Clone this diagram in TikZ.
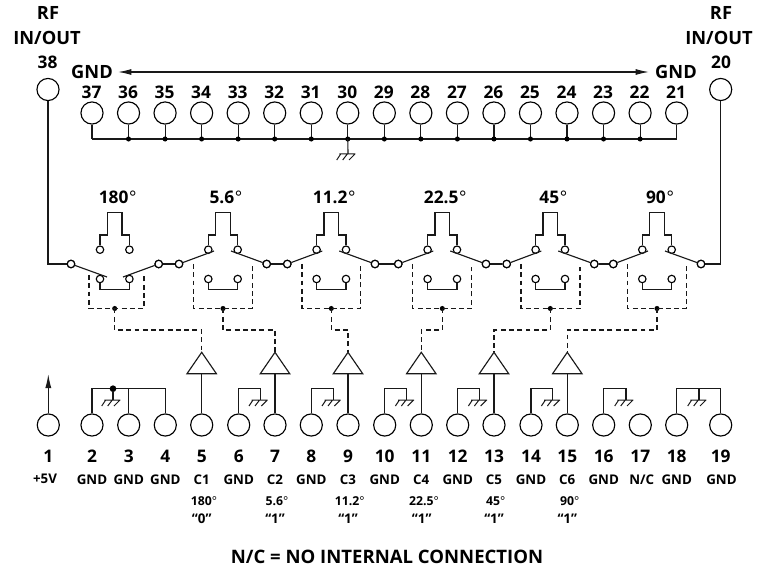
\documentclass[tikz,border=0pt]{standalone}
\usepackage{fontspec}
\setmainfont{Open Sans}
\usetikzlibrary{arrows.meta,calc}
\tikzset{
  wire/.style={line width=0.85pt,black!90},
  ctl/.style={line width=0.85pt,black!90,dash pattern=on 3.7pt off 2.5pt},
  pinc/.style={circle,draw=black,line width=0.85pt,minimum size=16.6pt,inner sep=0pt,fill=white},
  con/.style={circle,draw=black,line width=0.85pt,minimum size=5.6pt,inner sep=0pt,fill=white},
  jun/.style={circle,fill=black,minimum size=3.8pt,inner sep=0pt},
  buf/.style={line width=0.85pt,black!90,line join=miter},
  big/.style={font=\fontsize{13}{15}\selectfont\bfseries,inner sep=0pt},
  ttl/.style={font=\fontsize{13.7}{16}\selectfont\bfseries,inner sep=0pt},
  sml/.style={font=\fontsize{10}{12}\selectfont\bfseries,inner sep=0pt},
  deg/.style={font=\fontsize{9.2}{11}\selectfont\bfseries,inner sep=0pt},
  qt/.style={font=\fontsize{10}{12}\selectfont\bfseries,inner sep=0pt},
  gndsym/.pic={
    \draw[wire,line width=0.75pt] (-8.6,0)--(7.4,0)
      (-7.3,0)--(-11.3,6) (-0.7,0)--(-5.3,6) (7,0)--(1,6);
  }
}
\begin{document}
\begin{tikzpicture}[x=0.75pt,y=-0.75pt]
\useasboundingbox (0,0) rectangle (769,567);
% ---- top pins
\foreach \n in {21,...,37}{
  \pgfmathsetmacro{\px}{92+36.54*(37-\n)}
  \node[pinc] (p\n) at (\px,113) {};
  \node[big] (t\n) at (\px-0.5,92) {\n};
  \coordinate (b\n) at (\px,139);
  \draw[wire] (p\n.south) -- (b\n);
}
\draw[wire] (b37) -- (b21);
\foreach \n in {22,...,36}{\node[jun] (jb\n) at (b\n) {};}
\coordinate (g30) at (348,154);
\draw[wire] (b30) -- (g30);
\pic at (g30) {gndsym};
% ---- RF pins
\node[pinc] (p38) at (48,89.5) {};
\node[pinc] (p20) at (720.7,89.5) {};
\node[ttl] (rfa) at (48,13) {RF};
\node[ttl] (rfb) at (47,38) {IN/OUT};
\node[big] (n38) at (47.5,62) {38};
\node[ttl] (rfc) at (721,13) {RF};
\node[ttl] (rfd) at (719,38) {IN/OUT};
\node[big] (n20) at (721,62) {20};
\node[ttl] (gl) at (92,72) {GND};
\node[ttl] (gr) at (676,72) {GND};
\draw[wire,{Latex[length=10pt,width=4.5pt]}-{Latex[length=10pt,width=4.5pt]}] ($(gl.east)+(5,0)$) -- ($(gr.west)+(-6,0)$);
% ---- switch sections: centre, left, right, box left, box right, label, name
\foreach \c/\l/\r/\bl/\br/\t/\s/\by in {
  114.7/71/158.7/89/144/180/a/275,
  223/179/266.7/193.7/252.3/5.6/b/264,
  331.3/287.3/375/302/360.3/11.2/c/264,
  442.3/398.3/486/412.7/471.7/22.5/d/264,
  550.3/506.7/594.3/521/580/45/e/264,
  657/613.3/701/627.7/686.3/90/f/264}{
  \node[big] (lab\s) at (\c+3,197) {\t\kern0.5pt{\mdseries°}};
  % upper contacts and loop
  \node[con] (ul\s) at (\c-14.7,249.7) {};
  \node[con] (ur\s) at (\c+14.7,249.7) {};
  \node[con] (ll\s) at (\c-14.7,279) {};
  \node[con] (lr\s) at (\c+14.7,279) {};
  \draw[wire] (ul\s.north) -- (\c-14.7,235) -- (\c-7.3,235) -- (\c-7.3,212.7) -- (\c+7.3,212.7) -- (\c+7.3,235) -- (\c+14.7,235) -- (ur\s.north);
  \draw[wire] (ll\s.south) |- (\c,289.5) -| (lr\s.south);
  % poles
  \node[con] (pl\s) at (\l,264) {};
  \node[con] (pr\s) at (\r,264) {};
  % control
  \node[jun] (j\s) at (\c,308.5) {};
  \draw[ctl] (\bl,\by) |- (j\s.center) -| (\br,\by);
}
% arms (180 degree section switched to lower path)
\draw[wire] (pla) -- (107,277);
\draw[wire] (pra) -- (123,277);
\foreach \s/\c in {b/223,c/331.3,d/442.3,e/550.3,f/657}{
  \draw[wire] (pl\s) -- (\c-9,251);
  \draw[wire] (pr\s) -- (\c+8,251);
}
% through wires
\coordinate (cl) at (48,264);
\coordinate (cr) at (720.7,264);
\draw[wire] (p38.south) -- (cl) -- (pla.west);
\draw[wire] (p20.south) -- (cr) -- (prf.east);
\draw[wire] (pra) -- (plb);
\draw[wire] (prb) -- (plc);
\draw[wire] (prc) -- (pld);
\draw[wire] (prd) -- (ple);
\draw[wire] (pre) -- (plf);
\foreach \s in {a,...,f}{\node[con] at (pl\s) {}; \node[con] at (pr\s) {};}
% ---- bottom pins
\foreach \n/\x in {1/48.3,2/92,3/128.7,4/165.3,5/201.7,6/238.7,7/275,8/311.3,9/348,10/384.7,11/421.3,12/457.7,13/494,14/531,15/567.3,16/603.7,17/640.3,18/676.7,19/720.7}{
  \node[pinc] (q\n) at (\x,425) {};
  \node[big] (m\n) at (\x,456) {\n};
}
% buffers, control runs
\foreach \n/\s/\x/\c/\k in {5/a/201.7/114.7/C1,7/b/275/223/C2,9/c/348/331.3/C3,11/d/421.3/442.3/C4,13/e/494/550.3/C5,15/f/567.3/657/C6}{
  \coordinate (apx\n) at (\x,352.3);
  \coordinate (bl\n) at (\x-14.7,373.7);
  \coordinate (br\n) at (\x+14.7,373.7);
  \coordinate (bm\n) at (\x,373.7);
  \draw[buf] (apx\n) -- (bl\n) -- (br\n) -- cycle;
  \draw[wire] (bm\n) -- (q\n.north);
  \draw[ctl] (j\s.center) |- (\x,330) -- (apx\n);
  \node[sml] (lb\n) at (\x,479.3) {\k};
}
% labels under pins
\foreach \n/\x/\t in {1/45/+5V,2/92/GND,3/128.7/GND,4/165.3/GND,6/238.7/GND,8/311.3/GND,10/384.7/GND,12/457.7/GND,14/531/GND,16/603.7/GND,17/641.7/{N/C},18/676.7/GND,19/721.5/GND}{
  \node[sml] (lb\n) at (\x,479.3) {\t};
}
\foreach \n/\x/\y/\d/\v in {5/204/201.7/180/0,7/277/275/5.6/1,9/349.7/348/11.2/1,11/424/421.7/22.5/1,13/495.7/494/45/1,15/569.7/567.3/90/1}{
  \node[deg] (dg\n) at (\x,500.7) {\d{\mdseries°}};
  \node[qt] (st\n) at (\y,519) {“\v”};
}
% supply arrow
\coordinate (tip) at (48.3,374);
\draw[wire,-{Latex[length=10.5pt,width=4.5pt]}] (q1.north) -- (tip);
% ground groups
\coordinate (h2) at (92,388.3);
\coordinate (h3) at (128.7,388.3);
\coordinate (h4) at (165.3,388.3);
\draw[wire] (q2.north) -- (h2) -- (h4) -- (q4.north);
\draw[wire] (q3.north) -- (h3);
\node[jun,minimum size=5pt] (jg) at (113,388.7) {};
\coordinate (g2) at (113,400);
\draw[wire] (jg) -- (g2);
\pic at (g2) {gndsym};
\foreach \n/\x/\e in {6/238.7/260.3,8/311.3/333.3,10/384.7/406.7,12/457.7/479.7,14/531/552.7,16/603.7/626}{
  \coordinate (c\n) at (\x,388.3);
  \coordinate (d\n) at (\e,388.3);
  \coordinate (e\n) at (\e,400);
  \draw[wire] (q\n.north) -- (c\n) -- (d\n) -- (e\n);
  \pic at (e\n) {gndsym};
}
\coordinate (h18) at (676.7,388.3);
\coordinate (h19) at (720.7,388.3);
\coordinate (hm) at (699,388.3);
\coordinate (g18) at (699,400);
\draw[wire] (q18.north) -- (h18) -- (h19) -- (q19.north);
\draw[wire] (hm) -- (g18);
\pic at (g18) {gndsym};
\node[font=\fontsize{13.9}{16}\selectfont\bfseries,inner sep=0pt] (note) at (387,556.7) {N/C = NO INTERNAL CONNECTION};
\end{tikzpicture}
\end{document}
